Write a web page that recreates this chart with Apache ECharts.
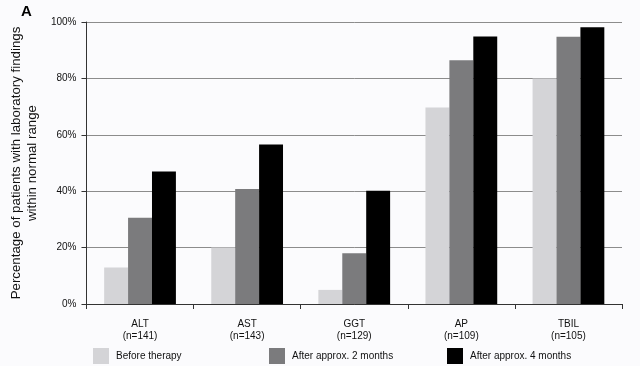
<!DOCTYPE html>
<html>
<head>
<meta charset="utf-8">
<script src="https://cdn.jsdelivr.net/npm/echarts@6/dist/echarts.min.js"></script>
<style>
html,body{margin:0;padding:0;background:#fbfbfd;}
#chart{width:640px;height:366px;}
</style>
</head>
<body>
<div id="chart"></div>
<script>
const categories = ['ALT\n(n=141)', 'AST\n(n=143)', 'GGT\n(n=129)', 'AP\n(n=109)', 'TBIL\n(n=105)'];
const seriesNames = ['Before therapy', 'After approx. 2 months', 'After approx. 4 months'];
const beforeTherapy = [12.9, 20.0, 5.0, 69.7, 80.0];
const after2Months = [30.6, 40.8, 18.0, 86.4, 94.8];
const after4Months = [47.0, 56.6, 40.2, 94.9, 98.1];
const yTicks = [0, 20, 40, 60, 80, 100];
const colors = ['#d4d4d7', '#7b7b7d', '#000000'];

const font = 'Liberation Sans, Arial, sans-serif';
const chart = echarts.init(document.getElementById('chart'), null, {renderer: 'canvas'});

const values = [beforeTherapy, after2Months, after4Months];
const legendLefts = [93, 269, 447];

chart.setOption({
  backgroundColor: '#fbfbfd',
  animation: false,
  title: {
    text: 'A', left: 21, top: 4, padding: 0,
    textStyle: {fontFamily: font, fontSize: 15, fontWeight: 'bold', color: '#000'}
  },
  legend: seriesNames.map((n, i) => ({
    data: [n], left: legendLefts[i], top: 348, padding: 0,
    itemWidth: 16, itemHeight: 16, itemGap: 0, icon: 'rect',
    textStyle: {fontFamily: font, fontSize: 10, color: '#111', padding: [0, 0, 0, 2]}
  })),
  grid: {left: 86, right: 18, top: 22, bottom: 62},
  xAxis: {
    type: 'category',
    data: categories,
    axisLine: {lineStyle: {color: '#333', width: 1}},
    axisTick: {show: true, length: 5, lineStyle: {color: '#333'}},
    axisLabel: {fontFamily: font, fontSize: 10, color: '#111', margin: 14, lineHeight: 12}
  },
  yAxis: {
    type: 'value',
    min: yTicks[0], max: yTicks[yTicks.length - 1], interval: 20,
    name: 'Percentage of patients with laboratory findings\nwithin normal range',
    nameLocation: 'middle', nameGap: 37,
    nameTextStyle: {fontFamily: font, fontSize: 13.3, color: '#111', lineHeight: 16},
    axisLine: {show: true, lineStyle: {color: '#333', width: 1}},
    axisTick: {show: true, length: 5, lineStyle: {color: '#333'}},
    axisLabel: {fontFamily: font, fontSize: 10, color: '#111', margin: 10, formatter: v => v + '%'},
    splitLine: {show: true, lineStyle: {color: '#8c8c8c', width: 1}}
  },
  series: seriesNames.map((n, i) => ({
    name: n, type: 'bar', data: values[i],
    barGap: '0%', barCategoryGap: '33%',
    itemStyle: {color: colors[i]}
  }))
});
</script>
</body>
</html>
